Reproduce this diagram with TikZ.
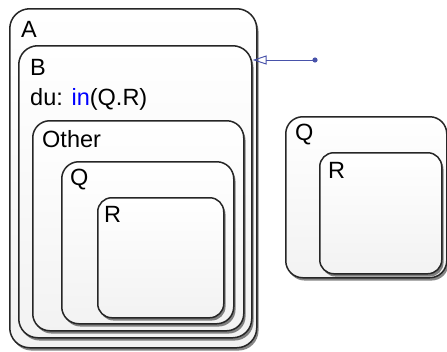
\documentclass[tikz,border=0pt]{standalone}
\usepackage{fontspec}
\setmainfont{Liberation Sans}
\usetikzlibrary{arrows.meta,positioning,shadows}
\definecolor{trans}{RGB}{72,82,170}

\begin{document}
\begin{tikzpicture}[x=1pt,y=-1pt,>=Latex,
  statebox/.style={draw=black!85,line width=1.5pt,rounded corners=17pt,
    top color=white,bottom color=black!5,inner sep=0pt,anchor=north west,
    drop shadow={shadow xshift=1.8pt,shadow yshift=-2.8pt,fill=black!80,opacity=0.6}},
  lbl/.style={anchor=base west,inner sep=0pt,font=\fontsize{23.5}{28}\selectfont}]
  \useasboundingbox (0,0) rectangle (447,351);
  % states, outer first
  \node[statebox,rounded corners=20pt,minimum width=247pt,minimum height=339pt] (A) at (9,8) {};
  \node[statebox,rounded corners=19pt,minimum width=233pt,minimum height=292pt] (B) at (18,45) {};
  \node[statebox,minimum width=211pt,minimum height=210pt] (oth) at (32,120) {};
  \node[statebox,minimum width=172pt,minimum height=162pt] (qin) at (61,161) {};
  \node[statebox,rounded corners=14pt,minimum width=126pt,minimum height=120pt] (rin) at (97,197) {};
  \node[statebox,minimum width=161pt,minimum height=161pt] (qout) at (285,116) {};
  \node[statebox,rounded corners=14pt,minimum width=122pt,minimum height=121pt] (rout) at (319,152) {};
  % labels
  \node[lbl] (lA) at ([shift={(12pt,-29pt)}]A.north west) {A};
  \node[lbl] (lB) at ([shift={(12pt,-30pt)}]B.north west) {B};
  \node[lbl] (du) at ([shift={(12pt,-60pt)}]B.north west) {du: \textcolor{blue}{in}(Q.R)};
  \node[lbl] (lOth) at ([shift={(10pt,-27pt)}]oth.north west) {Other};
  \node[lbl] (lqin) at ([shift={(9pt,-24pt)}]qin.north west) {Q};
  \node[lbl] (lrin) at ([shift={(7pt,-25pt)}]rin.north west) {R};
  \node[lbl] (lqout) at ([shift={(10pt,-24pt)}]qout.north west) {Q};
  \node[lbl] (lrout) at ([shift={(9pt,-26pt)}]rout.north west) {R};
  % default transition
  \coordinate (src) at (315,60);
  \draw[trans,line width=1pt,-{Triangle[open,length=14pt,width=9pt]}] (src) -- (B.east |- src);
  \fill[trans] (src) circle (2.6pt);
\end{tikzpicture}
\end{document}
